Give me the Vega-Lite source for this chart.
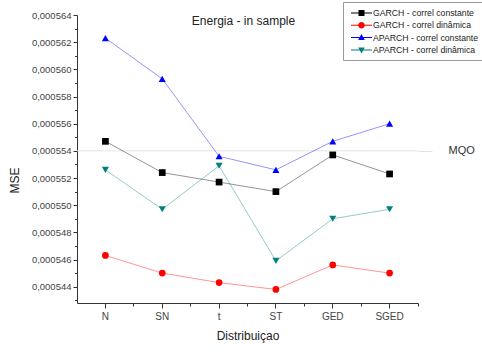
{
  "$schema": "https://vega.github.io/schema/vega-lite/v6.json",
  "width": 341,
  "height": 288,
  "autosize": "none",
  "padding": {"left": 77, "top": 15, "right": 64, "bottom": 49},
  "background": "white",
  "title": {"text": "Energia - in sample", "anchor": "middle", "dx": -4, "offset": -31, "baseline": "middle", "font": "Liberation Sans", "fontSize": 12, "fontWeight": "normal", "color": "#222222"},
  "config": {
    "view": {"stroke": null},
    "font": "Liberation Sans",
    "axis": {"grid": false, "domainColor": "#333333", "tickColor": "#333333", "labelFont": "Liberation Sans", "titleFont": "Liberation Sans", "labelColor": "#444444", "titleColor": "#222222", "titleFontWeight": "normal"},
    "legend": {"orient": "none", "legendX": 266, "legendY": -13, "padding": 5, "strokeColor": "#999999", "fillColor": "white", "labelFont": "Liberation Sans", "labelFontSize": 8.7, "labelColor": "#222222", "symbolSize": 144, "symbolStrokeWidth": 0, "symbolOpacity": 1, "rowPadding": 1.3, "labelOffset": 13, "title": null}
  },
  "datasets": {
    "mse": [
      {"series": "GARCH - correl constante", "dist": "N", "mse": 0.0005547},
      {"series": "GARCH - correl constante", "dist": "SN", "mse": 0.0005524},
      {"series": "GARCH - correl constante", "dist": "t", "mse": 0.0005517},
      {"series": "GARCH - correl constante", "dist": "ST", "mse": 0.0005510},
      {"series": "GARCH - correl constante", "dist": "GED", "mse": 0.0005537},
      {"series": "GARCH - correl constante", "dist": "SGED", "mse": 0.0005523},
      {"series": "GARCH - correl dinâmica", "dist": "N", "mse": 0.0005463},
      {"series": "GARCH - correl dinâmica", "dist": "SN", "mse": 0.0005450},
      {"series": "GARCH - correl dinâmica", "dist": "t", "mse": 0.0005443},
      {"series": "GARCH - correl dinâmica", "dist": "ST", "mse": 0.0005438},
      {"series": "GARCH - correl dinâmica", "dist": "GED", "mse": 0.0005456},
      {"series": "GARCH - correl dinâmica", "dist": "SGED", "mse": 0.0005450},
      {"series": "APARCH - correl constante", "dist": "N", "mse": 0.0005623},
      {"series": "APARCH - correl constante", "dist": "SN", "mse": 0.0005593},
      {"series": "APARCH - correl constante", "dist": "t", "mse": 0.0005536},
      {"series": "APARCH - correl constante", "dist": "ST", "mse": 0.0005526},
      {"series": "APARCH - correl constante", "dist": "GED", "mse": 0.0005547},
      {"series": "APARCH - correl constante", "dist": "SGED", "mse": 0.0005560},
      {"series": "APARCH - correl dinâmica", "dist": "N", "mse": 0.0005526},
      {"series": "APARCH - correl dinâmica", "dist": "SN", "mse": 0.0005497},
      {"series": "APARCH - correl dinâmica", "dist": "t", "mse": 0.0005529},
      {"series": "APARCH - correl dinâmica", "dist": "ST", "mse": 0.0005459},
      {"series": "APARCH - correl dinâmica", "dist": "GED", "mse": 0.0005490},
      {"series": "APARCH - correl dinâmica", "dist": "SGED", "mse": 0.0005497}
    ],
    "mqo": [{"label": "MQO", "mse": 0.000554}]
  },
  "layer": [
    {
      "data": {"name": "mse"},
      "transform": [{"filter": "false"}],
      "mark": {"type": "point", "filled": true, "opacity": 1},
      "encoding": {
        "color": {"field": "series", "type": "nominal",
                  "scale": {"domain": ["GARCH - correl constante", "GARCH - correl dinâmica", "APARCH - correl constante", "APARCH - correl dinâmica"], "range": ["#000000", "#ff0000", "#0000ff", "#008080"]}},
        "shape": {"field": "series", "type": "nominal",
                  "scale": {"domain": ["GARCH - correl constante", "GARCH - correl dinâmica", "APARCH - correl constante", "APARCH - correl dinâmica"],
                            "range": ["M-0.5,-0.085H3V0.085H-0.5ZM0.75,-0.5H1.75V0.5H0.75Z", "M-0.5,-0.085H3V0.085H-0.5ZM1.8,0A0.55,0.55,0,1,1,0.7,0A0.55,0.55,0,1,1,1.8,0Z", "M-0.5,-0.085H3V0.085H-0.5ZM1.25,-0.6L1.8,0.4H0.7Z", "M-0.5,-0.085H3V0.085H-0.5ZM1.25,0.6L0.7,-0.4H1.8Z"]}}
      }
    },
    {
      "data": {"name": "mqo"},
      "mark": {"type": "rule", "color": "#e4e4e4", "strokeWidth": 1},
      "encoding": {
        "y": {"field": "mse", "type": "quantitative",
              "scale": {"domain": [0.0005428, 0.000564], "nice": false, "zero": false},
              "axis": {"orient": "right", "values": [0.000554], "labelExpr": "'MQO'", "domain": false, "tickSize": 14, "tickColor": "#e4e4e4", "labelPadding": 16, "labelFontSize": 11, "labelColor": "#333333", "title": null}}
      }
    },
    {
      "data": {"name": "mse"},
      "mark": {"type": "line", "strokeWidth": 1, "opacity": 0.42},
      "encoding": {
        "x": {"field": "dist", "type": "nominal", "sort": ["N", "SN", "t", "ST", "GED", "SGED"],
              "scale": {"type": "band", "paddingInner": 0, "paddingOuter": 0},
              "axis": {"orient": "bottom", "title": "Distribuiçao", "labelAngle": 0, "labelFontSize": 10, "labelPadding": 3, "tickSize": 5, "titleFontSize": 12, "titlePadding": 9, "bandPosition": 0.5}},
        "y": {"field": "mse", "type": "quantitative",
              "axis": {"orient": "left", "title": "MSE", "values": [0.000544, 0.000546, 0.000548, 0.00055, 0.000552, 0.000554, 0.000556, 0.000558, 0.00056, 0.000562, 0.000564], "labelExpr": "replace(format(datum.value, '.6f'), '.', ',')", "labelFontSize": 9.5, "tickSize": 4, "labelPadding": 2, "titleFontSize": 12, "titlePadding": 10, "titleY": 165}},
        "color": {"field": "series", "type": "nominal"},
        "detail": {"field": "series"}
      }
    },
    {
      "data": {"name": "mse"},
      "transform": [{"filter": "datum.series == 'GARCH - correl constante'"}],
      "mark": {"type": "point", "shape": "square", "filled": true, "opacity": 1, "size": 45, "color": "#000000"},
      "encoding": {
        "x": {"field": "dist", "type": "nominal", "sort": ["N", "SN", "t", "ST", "GED", "SGED"],
              "axis": {"orient": "bottom", "title": null, "labels": false, "domain": false, "tickSize": 3, "bandPosition": 1}},
        "y": {"field": "mse", "type": "quantitative",
              "axis": {"orient": "left", "title": null, "labels": false, "domain": false, "tickSize": 2.5, "values": [0.000543, 0.000545, 0.000547, 0.000549, 0.000551, 0.000553, 0.000555, 0.000557, 0.000559, 0.000561, 0.000563]}}
      }
    },
    {
      "data": {"name": "mse"},
      "transform": [{"filter": "datum.series == 'GARCH - correl dinâmica'"}],
      "mark": {"type": "point", "shape": "circle", "filled": true, "opacity": 1, "size": 45, "color": "#ff0000"},
      "encoding": {
        "x": {"field": "dist", "type": "nominal", "sort": ["N", "SN", "t", "ST", "GED", "SGED"], "axis": null},
        "y": {"field": "mse", "type": "quantitative", "axis": null}
      }
    },
    {
      "data": {"name": "mse"},
      "transform": [{"filter": "datum.series == 'APARCH - correl constante'"}],
      "mark": {"type": "point", "shape": "triangle-up", "filled": true, "opacity": 1, "size": 50, "color": "#0000ff"},
      "encoding": {
        "x": {"field": "dist", "type": "nominal", "sort": ["N", "SN", "t", "ST", "GED", "SGED"], "axis": null},
        "y": {"field": "mse", "type": "quantitative", "axis": null}
      }
    },
    {
      "data": {"name": "mse"},
      "transform": [{"filter": "datum.series == 'APARCH - correl dinâmica'"}],
      "mark": {"type": "point", "shape": "triangle-down", "filled": true, "opacity": 1, "size": 50, "color": "#008080"},
      "encoding": {
        "x": {"field": "dist", "type": "nominal", "sort": ["N", "SN", "t", "ST", "GED", "SGED"], "axis": null},
        "y": {"field": "mse", "type": "quantitative", "axis": null}
      }
    }
  ],
  "resolve": {"axis": {"x": "independent", "y": "independent"}}
}
